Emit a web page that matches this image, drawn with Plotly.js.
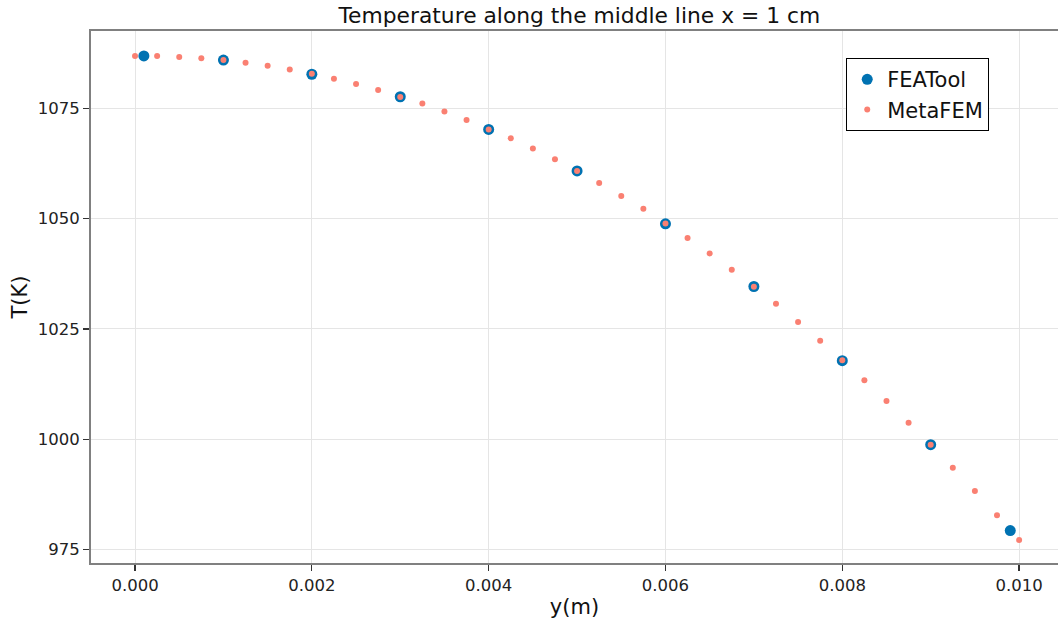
<!DOCTYPE html>
<html>
<head>
<meta charset="utf-8">
<script src="https://cdn.plot.ly/plotly-3.0.1.min.js"></script>
<style>html,body{margin:0;padding:0;background:#fff;}#chart{width:1058px;height:627px;}</style>
</head>
<body>
<div id="chart"></div>
<script>
// FEATool results
const featoolY = [0.0001, 0.001, 0.002, 0.003, 0.004, 0.005, 0.006, 0.007, 0.008, 0.009, 0.0099];
const featoolT = [1086.85, 1085.9, 1082.7, 1077.6, 1070.2, 1060.8, 1048.8, 1034.6, 1017.8, 998.75, 979.3];

// MetaFEM results
const metafemY = [0.0, 0.00025, 0.0005, 0.00075, 0.001, 0.00125, 0.0015, 0.00175, 0.002, 0.00225,
  0.0025, 0.00275, 0.003, 0.00325, 0.0035, 0.00375, 0.004, 0.00425, 0.0045, 0.00475,
  0.005, 0.00525, 0.0055, 0.00575, 0.006, 0.00625, 0.0065, 0.00675, 0.007, 0.00725,
  0.0075, 0.00775, 0.008, 0.00825, 0.0085, 0.00875, 0.009, 0.00925, 0.0095, 0.00975, 0.01];
const metafemT = [1086.85, 1086.85, 1086.6, 1086.3, 1085.9, 1085.3, 1084.6, 1083.75, 1082.8, 1081.7,
  1080.5, 1079.15, 1077.55, 1076.05, 1074.25, 1072.35, 1070.2, 1068.2, 1065.85, 1063.45,
  1060.8, 1058.05, 1055.1, 1052.2, 1048.85, 1045.6, 1042.1, 1038.4, 1034.55, 1030.7,
  1026.55, 1022.3, 1017.9, 1013.35, 1008.65, 1003.75, 998.75, 993.55, 988.25, 982.75, 977.15];

const xTicks = [0, 0.002, 0.004, 0.006, 0.008, 0.010];
const xTickLabels = ["0.000", "0.002", "0.004", "0.006", "0.008", "0.010"];
const yTicks = [975, 1000, 1025, 1050, 1075];
const yTickLabels = ["975", "1000", "1025", "1050", "1075"];

const FONT = "DejaVu Sans, sans-serif";

const traces = [
  {
    x: featoolY, y: featoolT, name: "FEATool", type: "scatter", mode: "markers",
    marker: {color: "#0072B2", size: 11, line: {width: 0}}
  },
  {
    x: metafemY, y: metafemT, name: "MetaFEM", type: "scatter", mode: "markers",
    marker: {color: "#FA8072", size: 6, line: {width: 0}}
  }
];

const axisCommon = {
  showline: true, mirror: true, linecolor: "#808080", linewidth: 2,
  showgrid: true, gridcolor: "#e5e5e5", gridwidth: 1, zeroline: false,
  ticks: "outside", ticklen: 6, tickwidth: 1.3, tickcolor: "#333",
  tickfont: {family: FONT, size: 16.5, color: "#222"}
};

const layout = {
  width: 1058, height: 627,
  margin: {l: 91, r: 0, t: 31, b: 64},
  paper_bgcolor: "#fff", plot_bgcolor: "#fff",
  font: {family: FONT, color: "#111"},
  title: {text: "Temperature along the middle line x = 1 cm", font: {family: FONT, size: 21.8, color: "#111"},
          xref: "paper", x: 0.505, xanchor: "center", yref: "container", y: 0.975, yanchor: "middle"},
  xaxis: Object.assign({}, axisCommon, {
    range: [-0.000498, 0.01044], tickvals: xTicks, ticktext: xTickLabels,
    title: {text: "y(m)", font: {family: FONT, size: 21, color: "#111"}, standoff: 6}
  }),
  yaxis: Object.assign({}, axisCommon, {
    range: [971.94, 1092.5], tickvals: yTicks, ticktext: yTickLabels,
    title: {text: "T(K)", font: {family: FONT, size: 21, color: "#111"}, standoff: 4}
  }),
  showlegend: true,
  legend: {
    x: 0.781, y: 0.949, xanchor: "left", yanchor: "top",
    bgcolor: "#fff", bordercolor: "#000", borderwidth: 1,
    font: {family: FONT, size: 21, color: "#111"},
    itemsizing: "trace", tracegroupgap: 0, itemwidth: 30
  }
};

Plotly.newPlot("chart", traces, layout, {displayModeBar: false, staticPlot: true});
</script>
</body>
</html>
